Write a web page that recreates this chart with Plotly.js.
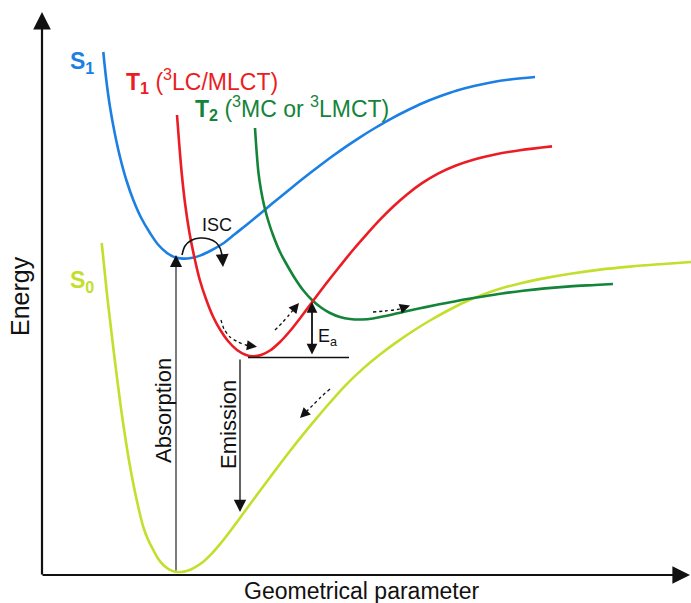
<!DOCTYPE html>
<html>
<head>
<meta charset="utf-8">
<script src="https://cdn.plot.ly/plotly-3.0.1.min.js"></script>
<style>html,body{margin:0;padding:0;background:#fff;}#chart{width:691px;height:603px;}</style>
</head>
<body>
<div id="chart"></div>
<script>
// Potential energy curves (x: geometrical parameter, y: energy in screen-like units, larger y = lower energy)
const s0X = [101.7,104.5,107.3,110.6,113.8,117.3,120.8,124.6,128.9,132,135.2,139,143.3,148,153.3,158,163.3,169,175,181,186.7,194,203.3,211,220,229,238.3,250,263,276,290,303,316,330,346,363,380,397,413,430,447,465,482,500,522,545,572,600,630,660,691];
const s0Y = [243,270,297,325,352,380,407,433,460,477,493,510,527,539.5,550,558.5,565,569.3,571.7,572,571,567.8,561.7,554.4,544.1,532.7,520.3,504.2,486.7,469.4,451,434.6,418.9,402.5,384.8,368.6,354.5,341.9,331,320.5,311,302,294.9,288.8,282.9,278.1,273.5,269.6,266.6,264.2,262];

const s1X = [103.3,106.3,110,114.5,120,126.3,133.3,141,150,158,167,175,183,191,200,211,223,235,247,258,269,280,292,305,318,332,346,360,375,390,406,423,440,457,474,492,512,535];
const s1Y = [52,80,107,132,157,180,200,217.5,233,244.5,253,257.3,258.6,258,255.6,250.5,243.5,234,224.5,215.5,206.3,197.2,187.4,177,167,156.5,146.6,137.3,128,119.3,111,103,96.3,90.5,86,82.2,79.3,77];

const t1X = [177,179.3,181.7,185,189.5,194.3,199.8,206,213,220,228,237,246,253,261,270,280,290,301,313,326,340,353,367,380,393,407,422,438,456,475,495,520,552];
const t1Y = [115,145,173,203,233,257,280,299,316.5,329.5,341,350,355,356.3,355,350.5,342,331,317,301,283.8,266,250,234,219.7,206.7,194.4,183.2,173.6,165.5,159.2,154.4,150.2,146.4];

const t2X = [255,256.5,258.5,261,264,268,273,280,287,295,303,312,321,330,340,350,362,373,388,403,420,437,458,480,502,523,545,570,595,613];
const t2Y = [128,150,173,190,205,220,235,252,265,278.5,290,300,307.5,313,317,319,319.5,318.5,315.5,312,308.3,304.8,300.7,297,293.5,290.7,288.4,286.4,285,284];

// ISC arc
const iscX = [182,185,191,200,209,216,220,222];
const iscY = [255,246,240.5,238,239,242.5,248,255];

// dotted relaxation paths
const d1X = [221,224,230,238,246,252];
const d1Y = [320,329,337,342,345,346];
const d2X = [275,282,289,294];
const d2Y = [330,323,315,309];
const d3X = [373,385,397,404];
const d3Y = [312,311,309.5,307.5];
const d4X = [330,321,313,307];
const d4Y = [389,397,405,411];

const colS0 = '#c3de2b', colS1 = '#1b7fe3', colT1 = '#ec1c24', colT2 = '#13843a';
const F = 'Liberation Sans, Arial, Helvetica, sans-serif';

function curve(x, y, c, w, dash, sm) {
  return {x: x, y: y, mode: 'lines', type: 'scatter', hoverinfo: 'skip',
          line: {color: c, width: w, shape: 'spline', smoothing: sm || 1, dash: dash || 'solid'}};
}

const data = [
  curve(s0X, s0Y, colS0, 2.6),
  curve(s1X, s1Y, colS1, 2.6),
  curve(t2X, t2Y, colT2, 2.6),
  curve(t1X, t1Y, colT1, 2.6),
  curve(iscX, iscY, '#111', 1.6, 'solid', 0.8),
  curve(d1X, d1Y, '#111', 1.3, 'dot', 0.8),
  curve(d2X, d2Y, '#111', 1.3, 'dot', 0.8),
  curve(d3X, d3Y, '#111', 1.3, 'dot', 0.8),
  curve(d4X, d4Y, '#111', 1.3, 'dot', 0.8)
];

function arrow(x, y, ax, ay, w, size, both) {
  return {x: x, y: y, ax: ax, ay: ay, xref: 'x', yref: 'y', axref: 'x', ayref: 'y',
          text: '', showarrow: true, arrowhead: 2, arrowsize: size, arrowwidth: w,
          arrowcolor: '#111', standoff: 0, startstandoff: 0,
          arrowside: both ? 'end+start' : 'end', startarrowhead: 2, startarrowsize: size};
}
function label(x, y, t, size, color, xa, angle) {
  return {x: x, y: y, xref: 'x', yref: 'y', text: t, showarrow: false,
          xanchor: xa || 'center', yanchor: 'middle', textangle: angle || 0,
          font: {family: F, size: size, color: color}};
}

const annotations = [
  // axes
  arrow(42, 12, 42, 576, 2.2, 1.6),
  arrow(690, 575, 41, 575, 2.2, 1.6),
  // absorption / emission / Ea
  arrow(176, 255, 176, 572, 1.1, 2.2),
  arrow(240, 512, 240, 358, 1.3, 1.9),
  arrow(312, 302, 312, 356, 1.8, 1.2, true),
  // small arrowheads
  arrow(223, 267, 222.3, 256, 1.6, 1.6),
  arrow(257, 346.7, 252, 346, 1.2, 1.7),
  arrow(299, 303, 294, 309, 1.2, 1.7),
  arrow(410, 305.5, 404, 307.5, 1.2, 1.7),
  arrow(300, 418, 307, 411, 1.2, 1.7),
  // labels
  label(68, 62, '<b>S<sub>1</sub></b>', 23, colS1, 'left'),
  label(124, 81, '<b>T<sub>1</sub></b> (<sup>3</sup>LC/MLCT)', 23, colT1, 'left'),
  label(193, 108, '<b>T<sub>2</sub></b> (<sup>3</sup>MC or <sup>3</sup>LMCT)', 23, colT2, 'left'),
  label(68, 281, '<b>S<sub>0</sub></b>', 23, colS0, 'left'),
  label(20, 296, 'Energy', 25, '#111', 'center', -90),
  label(362, 591, 'Geometrical parameter', 23, '#111'),
  label(163, 411, 'Absorption', 22, '#111', 'center', -90),
  label(228, 425, 'Emission', 22, '#111', 'center', -90),
  label(217, 225, 'ISC', 18, '#111'),
  label(327, 337, 'E<sub>a</sub>', 18, '#111')
];

const layout = {
  width: 691, height: 603,
  margin: {l: 0, r: 0, t: 0, b: 0, pad: 0},
  paper_bgcolor: '#ffffff', plot_bgcolor: '#ffffff',
  showlegend: false,
  xaxis: {range: [0, 691], visible: false, fixedrange: true},
  yaxis: {range: [603, 0], visible: false, fixedrange: true},
  shapes: [
    {type: 'line', xref: 'x', yref: 'y', x0: 248, x1: 349, y0: 357.5, y1: 357.5,
     line: {color: '#111', width: 1.3}}
  ],
  annotations: annotations
};

Plotly.newPlot('chart', data, layout, {staticPlot: true, displayModeBar: false});
</script>
</body>
</html>
